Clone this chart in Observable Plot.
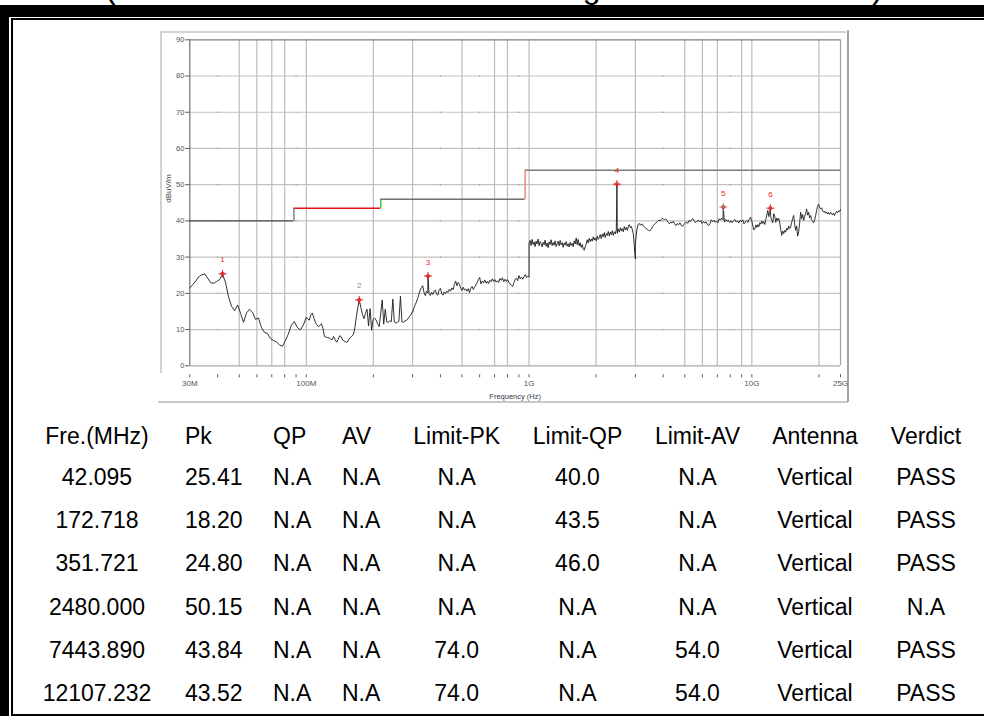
<!DOCTYPE html>
<html><head><meta charset="utf-8">
<script src="https://cdn.jsdelivr.net/npm/d3@7"></script>
<script src="https://cdn.jsdelivr.net/npm/@observablehq/plot@0.6"></script>
<style>
html,body{margin:0;padding:0;background:#fff;}
body{width:984px;height:716px;position:relative;overflow:hidden;font-family:"Liberation Sans",Arial,sans-serif;}
.abs{position:absolute;}
#title{left:105px;top:-28.6px;font-size:32px;line-height:32px;white-space:nowrap;color:#000;}
#band{left:0;top:5px;width:984px;height:12px;background:#000;}
#lthick{left:0;top:5px;width:9px;height:711px;background:#000;}
#lthin{left:11px;top:18px;width:1.5px;height:698px;background:#000;}
#tthin{left:11px;top:18px;width:973px;height:1.5px;background:#000;}
#bthin{left:11px;top:713.5px;width:973px;height:2px;background:#000;}
#ftop{left:160px;top:31px;width:686px;height:2px;background:#d2d2d2;}
#fleft{left:160px;top:31px;width:2px;height:342px;background:#d2d2d2;}
#fbottom{left:158px;top:400.5px;width:690px;height:2px;background:#c8c8c8;}
#fright{left:846.5px;top:30px;width:2.5px;height:372px;background:#a4a4a4;}
#chart{left:150px;top:25px;width:700px;height:380px;}
.cell{position:absolute;font-size:23px;line-height:26px;height:26px;white-space:nowrap;color:#000;}
</style>
</head>
<body>
<div id="title" class="abs">(Radiated Emission Result: Testing Mode TX - Vertical)</div>
<div id="band" class="abs"></div>
<div id="lthick" class="abs"></div>
<div id="lthin" class="abs"></div>
<div id="tthin" class="abs"></div>
<div id="bthin" class="abs"></div>
<div id="ftop" class="abs"></div>
<div id="fleft" class="abs"></div>
<div id="fbottom" class="abs"></div>
<div id="fright" class="abs"></div>
<div id="chart" class="abs"></div>
<div id="table"></div>
<script>
// ---- Sweep segments (MHz) and trace levels (dBuV/m) ----
const segStartMHz = [30, 100, 300, 1000, 3000, 10000];
const segStopMHz  = [100, 300, 1000, 3000, 10000, 25000];
const segA = [21.5,22.4,23.4,24.6,25.1,25.4,24.2,22.9,22.8,23.3,23.8,25.2,22.9,18.9,16.4,15.2,16.8,14.5,12.0,14.6,
  15.6,14.8,12.8,13.2,10.6,9.2,8.9,7.5,7.0,6.6,5.8,5.4,6.9,8.8,11.2,12.2,10.6,9.9,11.2,13.4];
const segB = [13.4,12.9,12.6,14.0,14.6,13.2,12.0,11.3,10.8,11.2,11.6,10.3,8.1,7.9,7.8,7.7,7.4,7.2,8.1,7.2,
  6.5,7.3,8.3,8.0,7.1,6.8,6.6,6.5,7.3,7.8,8.2,8.6,10.5,13.6,16.2,18.0,16.0,14.2,13.0,14.5,
  15.6,11.0,15.8,9.8,12.8,13.2,12.6,11.6,10.8,14.5,18.2,11.5,15.6,12.1,12.0,12.4,12.2,18.4,12.1,11.8,
  12.0,12.3,19.2,12.1,12.0,12.4,12.6,13.0,13.6,14.2,15.0];
const segC = [14.8,15.9,16.8,17.6,18.6,19.7,20.9,21.6,22.1,20.3,19.4,20.6,20.2,20.0,19.4,20.3,19.7,20.6,20.9,19.8,
  19.5,21.0,21.4,20.0,19.5,20.4,19.9,20.6,20.3,21.1,20.6,21.5,21.0,22.4,23.4,22.1,23.0,22.5,21.4,20.8,
  21.7,20.9,21.2,20.6,21.3,20.2,21.4,21.9,21.1,21.8,22.3,23.0,23.8,24.4,22.6,23.4,22.9,23.7,22.8,23.3,
  22.7,23.6,23.2,24.0,23.3,23.8,23.1,23.5,23.0,24.1,23.6,24.3,23.2,23.9,23.3,23.8,23.1,22.6,22.2,21.9,
  22.9,23.8,24.2,23.5,24.9,24.0,24.5,23.9,24.6,25.2,24.4,24.7,24.5];
const segD = [33.8,34.6,33.2,34.9,33.5,34.2,32.9,34.4,33.6,35.0,33.1,34.3,33.7,32.8,34.1,33.4,34.7,33.0,33.9,32.6,
  34.2,33.5,34.8,33.2,34.0,33.3,34.5,32.9,33.8,34.4,33.1,34.6,33.4,34.0,32.7,33.9,33.3,34.3,33.0,33.7,
  32.8,34.1,33.2,33.8,32.9,34.5,33.6,35.3,33.4,34.9,33.1,34.0,32.7,33.5,32.3,31.9,33.0,33.6,34.8,33.9,
  35.2,34.3,35.0,34.4,35.6,34.7,35.3,34.5,35.8,34.9,35.4,36.2,35.1,36.4,35.6,36.8,35.4,36.5,36.0,37.1,
  35.8,36.9,36.2,37.3,36.0,37.0,36.4,37.5,36.6,37.8,36.9,38.1,37.2,37.9,37.0,38.4,37.5,38.2,37.4,38.6,
  39.0,38.1,38.5,37.6,36.3,33.0,29.5];
const segE = [33.5,37.2,38.9,39.3,38.8,39.2,38.6,38.3,38.0,37.7,37.4,37.3,37.6,38.3,38.8,39.2,39.6,39.9,40.2,40.0,
  40.5,40.7,40.3,40.6,40.2,39.6,39.2,39.7,39.4,39.9,39.2,38.7,39.3,38.9,39.5,38.8,38.5,39.0,39.4,39.7,
  39.3,40.1,39.8,40.4,40.6,40.0,39.5,39.9,40.2,39.7,40.1,39.3,39.8,39.4,39.7,39.1,38.7,39.2,40.3,39.8,
  40.2,39.6,40.0,39.5,40.6,40.2,40.8,40.3,39.7,40.4,39.9,40.2,39.6,40.0,39.5,40.1,40.4,39.7,40.0,39.4,
  40.2,39.8,40.3,39.2,39.7,40.1,39.6,40.5,41.0,39.9];
const segF = [39.9,38.6,37.5,37.8,38.9,38.2,39.0,38.4,39.5,39.1,40.0,39.3,39.8,39.0,40.4,41.6,42.9,41.2,42.5,41.0,
  40.2,39.5,42.0,41.3,39.6,40.8,40.1,40.7,39.4,37.6,36.0,37.2,36.5,37.4,36.9,38.0,37.5,38.6,37.9,38.4,
  39.6,40.7,41.5,39.0,37.4,38.6,35.8,37.0,39.5,42.4,40.6,41.8,40.1,41.2,42.0,43.3,41.6,42.4,40.8,41.5,
  40.3,39.9,39.5,40.2,41.5,42.8,44.0,44.6,43.8,43.3,43.6,42.8,42.4,42.7,42.1,42.5,41.9,42.3,41.8,42.4,
  42.0,41.6,42.2,41.5,42.1,42.6,42.2,42.8,42.5,43.1];
const segLevels = [segA, segB, segC, segD, segE, segF];

// ---- Marked peaks / table values ----
const markerFreqMHz = [42.095, 172.718, 351.721, 2480.000, 7443.890, 12107.232];
const markerLevel   = [25.41, 18.20, 24.80, 50.15, 43.84, 43.52];
const markerLabel   = ["1", "2", "3", "4", "5", "6"];
const qpCol      = ["N.A", "N.A", "N.A", "N.A", "N.A", "N.A"];
const avCol      = ["N.A", "N.A", "N.A", "N.A", "N.A", "N.A"];
const limitPkCol = ["N.A", "N.A", "N.A", "N.A", "74.0", "74.0"];
const limitQpCol = ["40.0", "43.5", "46.0", "N.A", "N.A", "N.A"];
const limitAvCol = ["N.A", "N.A", "N.A", "N.A", "54.0", "54.0"];
const antennaCol = ["Vertical", "Vertical", "Vertical", "Vertical", "Vertical", "Vertical"];
const verdictCol = ["PASS", "PASS", "PASS", "N.A", "PASS", "PASS"];
const headers = ["Fre.(MHz)", "Pk", "QP", "AV", "Limit-PK", "Limit-QP", "Limit-AV", "Antenna", "Verdict"];

// ---- Limit line (dBuV/m) ----
const limitStartMHz = [30, 88, 216, 960];
const limitStopMHz  = [88, 216, 960, 25000];
const limitLevel    = [40, 43.5, 46, 54];

// ---- Axes ----
const yTicks = [0, 10, 20, 30, 40, 50, 60, 70, 80, 90];
const xTickMHz = [30,40,50,60,70,80,90,100,200,300,400,500,600,700,800,900,1000,2000,3000,4000,5000,6000,7000,8000,9000,10000,20000,25000];
const xLabelMHz = [30, 100, 1000, 10000, 25000];
const xLabelText = ["30M", "100M", "1G", "10G", "25G"];
const gridMHz = [50,60,70,80,100,200,300,500,700,800,1000,2000,3000,5000,6000,7000,9000,10000,20000];
const dotGridMHz = [40, 90, 400, 600, 900, 4000, 8000];

// ---- Build data ----
const trace = [];
segLevels.forEach((levels, s) => {
  const a = Math.log10(segStartMHz[s]), b = Math.log10(segStopMHz[s]), n = levels.length;
  levels.forEach((v, i) => trace.push({f: Math.pow(10, a + (b - a) * i / (n - 1)), v}));
});
const markers = markerFreqMHz.map((f, i) => ({f, v: markerLevel[i], label: markerLabel[i], i}));
markers.forEach(m => trace.push({f: m.f, v: m.v}));
trace.sort((p, q) => p.f - q.f);

const limits = limitLevel.map((v, i) => ({x1: limitStartMHz[i], x2: limitStopMHz[i], y: v}));
const risers = limitLevel.slice(0, -1).map((v, i) => ({x: limitStopMHz[i], y1: v, y2: limitLevel[i + 1]}));
const hColors = ["#4a4a4a", "#e8141a", "#6e6e6e", "#7c7c7c"];
const vColors = ["#7a7a7a", "#2bc42b", "#f07a7a"];
const dotGrid = dotGridMHz.flatMap(f => yTicks.slice(1, -1).map(y => ({f, y})));
const labelOf = new Map(xLabelMHz.map((f, i) => [f, xLabelText[i]]));

const crossSymbol = {draw(ctx, size) { const r = Math.sqrt(size / Math.PI); ctx.moveTo(-r, 0); ctx.lineTo(r, 0); ctx.moveTo(0, -r); ctx.lineTo(0, r); }};
const RED = "#e41e1e";

const chart = Plot.plot({
  width: 700, height: 380,
  marginLeft: 39.3, marginTop: 14.3, marginRight: 10, marginBottom: 39.7,
  style: {background: "transparent", fontFamily: "'Liberation Sans', Arial, sans-serif", overflow: "visible"},
  x: {type: "log", domain: [30, 25000]},
  y: {domain: [0, 90]},
  marks: [
    Plot.ruleY(yTicks.slice(1, -1), {stroke: "#c2c2c2", strokeWidth: 1.2}),
    Plot.ruleX(gridMHz, {stroke: "#bcbcbc", strokeWidth: 1.2}),
    Plot.dot(dotGrid, {x: "f", y: "y", r: 0.7, fill: "#9a9a9a", stroke: null}),
    Plot.ruleY([0], {stroke: "#a8a8a8", strokeWidth: 1.2}),
    Plot.ruleX([25000], {stroke: "#a0a0a0", strokeWidth: 1.2}),
    Plot.ruleY([90], {stroke: "#808080", strokeWidth: 1.2}),
    Plot.ruleX([30], {stroke: "#707070", strokeWidth: 1.2}),
    ...limits.map((d, i) => Plot.ruleY([d], {x1: "x1", x2: "x2", y: "y", stroke: hColors[i], strokeWidth: 1.4})),
    ...risers.map((d, i) => Plot.ruleX([d], {x: "x", y1: "y1", y2: "y2", stroke: vColors[i], strokeWidth: 1.4})),
    Plot.line(trace, {x: "f", y: "v", stroke: "#1c1c1c", strokeWidth: 0.9}),
    Plot.dot(markers, {x: "f", y: "v", symbol: crossSymbol, r: 4, stroke: d => d.i === 4 ? "#8a8a8a" : RED, strokeWidth: 1}),
    Plot.dot(markers, {x: "f", y: "v", r: 1.6, stroke: RED, fill: "none", strokeWidth: 1}),
    Plot.text(markers.filter(d => d.i !== 1), {x: "f", y: "v", text: "label", dy: -14, fill: RED, fontSize: 8}),
    Plot.text(markers.filter(d => d.i === 1), {x: "f", y: "v", text: "label", dy: -14, fill: "#8c8c8c", fontSize: 8}),
    Plot.axisY({ticks: yTicks, tickSize: 4, tickPadding: 1.5, fontSize: 7.5, color: "#555", label: null}),
    Plot.text(["dBuV/m"], {frameAnchor: "left", dx: -21, rotate: -90, fontSize: 8, fill: "#444"}),
    Plot.axisX({ticks: xTickMHz, tickFormat: d => labelOf.get(d) ?? "", tickSize: 3, tickPadding: 3, dy: 9, fontSize: 8, color: "#555", label: null}),
    Plot.text(["Frequency (Hz)"], {frameAnchor: "bottom", lineAnchor: "middle", dy: 31, fontSize: 7.5, fill: "#33344a"})
  ]
});
document.getElementById("chart").appendChild(chart);

// ---- Table ----
const columns = [
  markerFreqMHz.map(f => f.toFixed(3)),
  markerLevel.map(v => v.toFixed(2)),
  qpCol, avCol, limitPkCol, limitQpCol, limitAvCol, antennaCol, verdictCol
];
const colX = [97, 185, 273, 342, 456.7, 577.5, 697.5, 815, 926];
const colAlign = ["center", "left", "left", "left", "center", "center", "center", "center", "center"];
const headY = 436, rowY0 = 476.5, rowStep = 43.35;
const table = document.getElementById("table");
function cell(text, c, yc) {
  const d = document.createElement("div");
  d.className = "cell";
  d.textContent = text;
  d.style.top = (yc - 13) + "px";
  if (colAlign[c] === "center") { d.style.left = (colX[c] - 100) + "px"; d.style.width = "200px"; d.style.textAlign = "center"; }
  else { d.style.left = colX[c] + "px"; }
  table.appendChild(d);
}
headers.forEach((h, c) => cell(h, c, headY));
columns.forEach((col, c) => col.forEach((t, r) => cell(t, c, rowY0 + r * rowStep)));
</script>
</body></html>
